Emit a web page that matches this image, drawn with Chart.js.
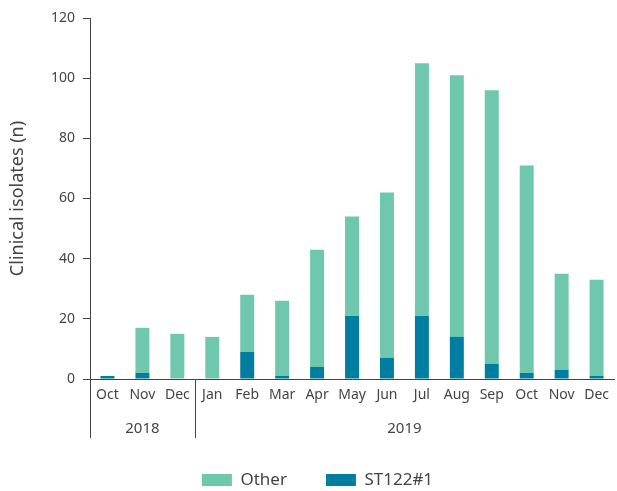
<!DOCTYPE html>
<html>
<head>
<meta charset="utf-8">
<script src="https://cdn.jsdelivr.net/npm/chart.js@4/dist/chart.umd.min.js"></script>
<style>
  html, body { margin: 0; padding: 0; background: #fff; }
  #wrap { width: 617px; height: 491px; }
</style>
</head>
<body>
<div id="wrap"><canvas id="c" width="617" height="491"></canvas></div>
<script>
const months = ["Oct","Nov","Dec","Jan","Feb","Mar","Apr","May","Jun","Jul","Aug","Sep","Oct","Nov","Dec"];
const years = [{label: "2018", from: 0, to: 2}, {label: "2019", from: 3, to: 14}];
const st122 = [1, 2, 0, 0, 9, 1, 4, 21, 7, 21, 14, 5, 2, 3, 1];
const other = [0, 15, 15, 14, 19, 25, 39, 33, 55, 84, 87, 91, 69, 32, 32];
const yTicks = [0, 20, 40, 60, 80, 100, 120];

const TEXT = "#444444";
const AXIS = "#444444";
const FONT = "'Noto Sans', 'Open Sans', sans-serif";

const yearPlugin = {
  id: "yearGroups",
  afterLayout(chart) {
    const lg = chart.legend;
    if (!lg) return;
    const targetCenter = 480;
    const p = lg.options.labels.padding;
    const cur = lg.top + p + 8.5;
    const dy = targetCenter - cur;
    const dx = 9;
    lg.top += dy; lg.bottom += dy;
    lg.left += dx; lg.right += dx;
    if (lg.legendHitBoxes) lg.legendHitBoxes.forEach(h => { h.top += dy; h.left += dx; });
  },
  afterDraw(chart) {
    const {ctx, scales: {x}, chartArea} = chart;
    const half = (x.getPixelForValue(1) - x.getPixelForValue(0)) / 2;
    const bottom = chartArea.bottom;
    ctx.save();
    ctx.strokeStyle = AXIS;
    ctx.lineWidth = 1;
    ctx.fillStyle = TEXT;
    ctx.font = "15px " + FONT;
    ctx.textAlign = "center";
    ctx.textBaseline = "middle";
    years.forEach((g) => {
      const left = x.getPixelForValue(g.from) - half;
      const right = x.getPixelForValue(g.to) + half;
      const lx = Math.round(left) + 0.5;
      ctx.beginPath();
      ctx.moveTo(lx, bottom);
      ctx.lineTo(lx, bottom + 59);
      ctx.stroke();
      ctx.fillText(g.label, (left + right) / 2, bottom + 50);
    });
    ctx.restore();
  }
};

new Chart(document.getElementById("c"), {
  type: "bar",
  data: {
    labels: months,
    datasets: [
      { label: "ST122#1", data: st122, backgroundColor: "#007ea1", borderWidth: 0 },
      { label: "Other", data: other, backgroundColor: "#6fc8ad", borderWidth: 0 }
    ]
  },
  options: {
    responsive: false,
    animation: false,
    devicePixelRatio: 1,
    layout: { padding: { top: 18, right: 0, left: 0, bottom: 18 } },
    datasets: { bar: { categoryPercentage: 1, barPercentage: 0.4 } },
    plugins: {
      tooltip: { enabled: false },
      legend: {
        position: "bottom",
        reverse: true,
        labels: {
          boxWidth: 30,
          boxHeight: 12,
          padding: 39,
          color: TEXT,
          font: { family: FONT, size: 17 }
        }
      }
    },
    scales: {
      x: {
        stacked: true,
        grid: { display: false, drawTicks: false },
        border: { display: true, color: AXIS, width: 1 },
        ticks: { color: TEXT, font: { family: FONT, size: 14 }, padding: 8, maxRotation: 0, autoSkip: false },
        afterFit(axis) { axis.height = 28; }
      },
      y: {
        stacked: true,
        min: 0,
        max: 120,
        afterBuildTicks(axis) { axis.ticks = yTicks.map(v => ({ value: v })); },
        grid: { drawOnChartArea: false, drawTicks: true, tickLength: 7, color: AXIS },
        border: { display: true, color: AXIS, width: 1 },
        ticks: { color: TEXT, font: { family: FONT, size: 14 }, padding: 8 },
        title: { display: true, text: "Clinical isolates (n)", color: TEXT, font: { family: FONT, size: 18 }, padding: { top: 7, bottom: 0 } },
        afterFit(axis) { axis.width = 90; }
      }
    }
  },
  plugins: [yearPlugin]
});
</script>
</body>
</html>
